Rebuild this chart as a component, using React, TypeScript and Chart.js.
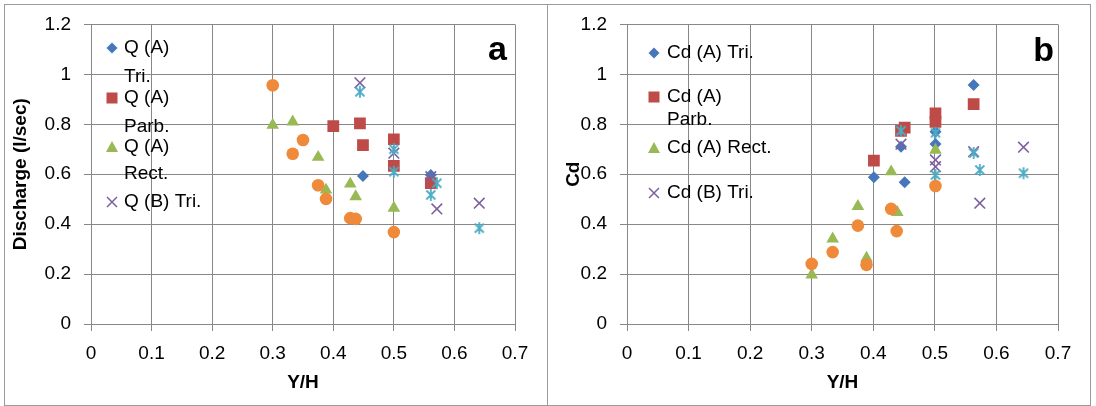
import React, { useEffect, useRef } from 'react';
import { Chart, registerables } from 'chart.js';

Chart.register(...registerables);

const FONT = "'Liberation Sans', Arial, sans-serif";

// Tick labels (shared by both panels)
const xTickLabels = ['0', '0.1', '0.2', '0.3', '0.4', '0.5', '0.6', '0.7'];
const yTickLabels = ['0', '0.2', '0.4', '0.6', '0.8', '1', '1.2'];

// ---------- Panel a : Discharge ----------
const aTriX = [0.449, 0.561];
const aTriY = [0.593, 0.597];
const aParbX = [0.4, 0.444, 0.449, 0.5, 0.5, 0.561];
const aParbY = [0.793, 0.804, 0.716, 0.74, 0.633, 0.564];
const aRectX = [0.3, 0.333, 0.375, 0.388, 0.428, 0.437, 0.5];
const aRectY = [0.797, 0.81, 0.668, 0.537, 0.561, 0.51, 0.464];
const aBTriX = [0.444, 0.5, 0.561, 0.571, 0.641];
const aBTriY = [0.966, 0.684, 0.59, 0.461, 0.484];
const aStarX = [0.444, 0.5, 0.5, 0.561, 0.571, 0.641];
const aStarY = [0.93, 0.7, 0.61, 0.517, 0.564, 0.384];
const aCircX = [0.3, 0.333, 0.35, 0.375, 0.388, 0.428, 0.437, 0.5];
const aCircY = [0.956, 0.682, 0.737, 0.556, 0.501, 0.424, 0.421, 0.368];

// ---------- Panel b : Cd ----------
const bTriX = [0.401, 0.445, 0.451, 0.501, 0.501, 0.563];
const bTriY = [0.588, 0.71, 0.568, 0.721, 0.77, 0.957];
const bParbX = [0.401, 0.445, 0.451, 0.501, 0.501, 0.563];
const bParbY = [0.654, 0.774, 0.787, 0.81, 0.844, 0.881];
const bRectX = [0.3, 0.334, 0.375, 0.389, 0.429, 0.439, 0.501];
const bRectY = [0.197, 0.341, 0.471, 0.264, 0.61, 0.447, 0.697];
const bBTriX = [0.445, 0.501, 0.501, 0.563, 0.573, 0.644];
const bBTriY = [0.72, 0.657, 0.63, 0.69, 0.484, 0.708];
const bStarX = [0.445, 0.501, 0.501, 0.563, 0.573, 0.644];
const bStarY = [0.774, 0.766, 0.597, 0.685, 0.617, 0.604];
const bCircX = [0.3, 0.334, 0.375, 0.389, 0.429, 0.438, 0.501];
const bCircY = [0.241, 0.288, 0.394, 0.237, 0.461, 0.372, 0.553];

const aLegend = [['Q (A)', 'Tri.'], ['Q (A)', 'Parb.'], ['Q (A)', 'Rect.'], ['Q (B) Tri.']];
const bLegend = [['Cd (A) Tri.'], ['Cd (A)', 'Parb.'], ['Cd (A) Rect.'], ['Cd (B) Tri.']];

const C_BLUE = '#4677BA';
const C_RED = '#BE4B48';
const C_GREEN = '#98B954';
const C_PURPLE = '#7D60A0';
const C_CYAN = '#4BACC6';
const C_ORANGE = '#EE8A3A';
const GRID = '#878787';

const zip = (xs: number[], ys: number[]) => xs.map((x, i) => ({ x, y: ys[i] }));

function makeStar(): HTMLCanvasElement {
  const c = document.createElement('canvas');
  c.width = 14;
  c.height = 14;
  const g = c.getContext('2d')!;
  g.strokeStyle = C_CYAN;
  g.lineWidth = 1.8;
  g.beginPath();
  g.moveTo(2.5, 2.5); g.lineTo(11.5, 11.5);
  g.moveTo(11.5, 2.5); g.lineTo(2.5, 11.5);
  g.moveTo(7, 1); g.lineTo(7, 13);
  g.stroke();
  return c;
}

function drawMarker(ctx: CanvasRenderingContext2D, style: string, x: number, y: number, color: string) {
  ctx.save();
  ctx.fillStyle = color;
  ctx.strokeStyle = color;
  ctx.beginPath();
  if (style === 'diamond') {
    const r = 5.5;
    ctx.moveTo(x, y - r); ctx.lineTo(x + r, y); ctx.lineTo(x, y + r); ctx.lineTo(x - r, y);
    ctx.closePath(); ctx.fill();
  } else if (style === 'square') {
    ctx.fillRect(x - 5.5, y - 5.5, 11, 11);
  } else if (style === 'triangle') {
    ctx.moveTo(x, y - 6); ctx.lineTo(x + 6, y + 5); ctx.lineTo(x - 6, y + 5);
    ctx.closePath(); ctx.fill();
  } else {
    const r = 5;
    ctx.lineWidth = 1.5;
    ctx.moveTo(x - r, y - r); ctx.lineTo(x + r, y + r);
    ctx.moveTo(x + r, y - r); ctx.lineTo(x - r, y + r);
    ctx.stroke();
  }
  ctx.restore();
}

const markerStyles = ['diamond', 'square', 'triangle', 'cross'];
const markerColors = [C_BLUE, C_RED, C_GREEN, C_PURPLE];

interface PanelCfg {
  legend: string[][];
  legendYs: number[][];
  markerX: number;
  textX: number;
  letter: string;
  letterX: number;
  letterY: number;
}

function overlayPlugin(cfg: PanelCfg) {
  return {
    id: 'overlay' + cfg.letter,
    afterDraw(chart: any) {
      const ctx: CanvasRenderingContext2D = chart.ctx;
      ctx.save();
      cfg.legend.forEach((lines, i) => {
        const ys = cfg.legendYs[i];
        drawMarker(ctx, markerStyles[i], cfg.markerX, ys[0], markerColors[i]);
        ctx.font = `19px ${FONT}`;
        ctx.fillStyle = '#000';
        ctx.textAlign = 'left';
        ctx.textBaseline = 'middle';
        lines.forEach((t, j) => ctx.fillText(t, cfg.textX, ys[j]));
      });
      ctx.font = `bold 34px ${FONT}`;
      ctx.fillStyle = '#000';
      ctx.textAlign = 'right';
      ctx.textBaseline = 'alphabetic';
      ctx.fillText(cfg.letter, cfg.letterX, cfg.letterY);
      ctx.restore();
    },
  };
}

function buildConfig(
  series: { tri: any[]; parb: any[]; rect: any[]; btri: any[]; star: any[]; circ: any[] },
  yTitle: string,
  yWidth: number,
  rightPad: number,
  yTitlePad: number,
  starImg: HTMLCanvasElement,
  cfg: PanelCfg
): any {
  const tickFont = { family: FONT, size: 19 };
  const titleFont = { family: FONT, size: 19, weight: 'bold' as const };
  return {
    type: 'scatter',
    data: {
      datasets: [
        { label: 'tri', data: series.tri, pointStyle: 'rectRot', pointRadius: 6, backgroundColor: C_BLUE, borderColor: C_BLUE, borderWidth: 0, order: 6 },
        { label: 'parb', data: series.parb, pointStyle: 'rect', pointRadius: 8.3, backgroundColor: C_RED, borderColor: C_RED, borderWidth: 0, order: 5 },
        { label: 'rect', data: series.rect, pointStyle: 'triangle', pointRadius: 7.3, backgroundColor: C_GREEN, borderColor: C_GREEN, borderWidth: 0, order: 4 },
        { label: 'btri', data: series.btri, pointStyle: 'crossRot', pointRadius: 7.5, backgroundColor: C_PURPLE, borderColor: C_PURPLE, borderWidth: 1.6, order: 3 },
        { label: 'star', data: series.star, pointStyle: starImg, pointRadius: 7, backgroundColor: C_CYAN, borderColor: C_CYAN, borderWidth: 0, order: 2 },
        { label: 'circ', data: series.circ, pointStyle: 'circle', pointRadius: 6.3, backgroundColor: C_ORANGE, borderColor: C_ORANGE, borderWidth: 0, order: 1 },
      ],
    },
    options: {
      animation: false,
      responsive: false,
      events: [],
      layout: { padding: { top: 24, right: rightPad, left: 0, bottom: 0 } },
      plugins: { legend: { display: false }, tooltip: { enabled: false } },
      scales: {
        x: {
          type: 'linear',
          min: 0,
          max: 0.7,
          afterFit: (s: any) => { s.height = 82; },
          ticks: {
            stepSize: 0.1,
            padding: 11,
            color: '#000',
            font: tickFont,
            callback: (v: number) => xTickLabels[Math.round(v / 0.1)] ?? '',
          },
          grid: { color: GRID, lineWidth: 1, tickLength: 7, drawTicks: true },
          border: { color: GRID, width: 1 },
          title: { display: true, text: 'Y/H', color: '#000', font: titleFont, padding: { top: 0, bottom: 12 } },
        },
        y: {
          type: 'linear',
          min: 0,
          max: 1.2,
          afterFit: (s: any) => { s.width = yWidth; },
          ticks: {
            stepSize: 0.2,
            padding: 13,
            color: '#000',
            font: tickFont,
            callback: (v: number) => yTickLabels[Math.round(v / 0.2)] ?? '',
          },
          grid: { color: GRID, lineWidth: 1, tickLength: 7, drawTicks: true },
          border: { color: GRID, width: 1 },
          title: { display: true, text: yTitle, color: '#000', font: titleFont, padding: { top: yTitlePad, bottom: 0 } },
        },
      },
    },
    plugins: [overlayPlugin(cfg)],
  };
}

export default function App() {
  const refA = useRef<HTMLCanvasElement>(null);
  const refB = useRef<HTMLCanvasElement>(null);

  useEffect(() => {
    const star = makeStar();
    const chartA = new Chart(
      refA.current!,
      buildConfig(
        {
          tri: zip(aTriX, aTriY),
          parb: zip(aParbX, aParbY),
          rect: zip(aRectX, aRectY),
          btri: zip(aBTriX, aBTriY),
          star: zip(aStarX, aStarY),
          circ: zip(aCircX, aCircY),
        },
        'Discharge (l/sec)',
        91,
        32,
        9,
        star,
        {
          legend: aLegend,
          legendYs: [[48, 77], [98, 127], [147, 174], [202]],
          markerX: 112,
          textX: 124,
          letter: 'a',
          letterX: 507,
          letterY: 60,
        }
      )
    );
    const chartB = new Chart(
      refB.current!,
      buildConfig(
        {
          tri: zip(bTriX, bTriY),
          parb: zip(bParbX, bParbY),
          rect: zip(bRectX, bRectY),
          btri: zip(bBTriX, bBTriY),
          star: zip(bStarX, bStarY),
          circ: zip(bCircX, bCircY),
        },
        'Cd',
        80,
        38,
        15,
        star,
        {
          legend: bLegend,
          legendYs: [[53], [97, 120], [148], [193]],
          markerX: 107,
          textX: 120,
          letter: 'b',
          letterX: 507,
          letterY: 61,
        }
      )
    );
    return () => {
      chartA.destroy();
      chartB.destroy();
    };
  }, []);

  return (
    <div style={{ position: 'absolute', left: 0, top: 0, width: 1096, height: 406, background: '#fff', overflow: 'hidden' }}>
      <canvas ref={refA} width={547} height={406} style={{ position: 'absolute', left: 0, top: 0, width: 547, height: 406 }} />
      <canvas ref={refB} width={549} height={406} style={{ position: 'absolute', left: 547, top: 0, width: 549, height: 406 }} />
      <div style={{ position: 'absolute', left: 4, top: 4, width: 1087, height: 402, border: '1px solid #9a9a9a', boxSizing: 'border-box', pointerEvents: 'none' }} />
      <div style={{ position: 'absolute', left: 547, top: 4, width: 1, height: 402, background: '#9a9a9a', pointerEvents: 'none' }} />
    </div>
  );
}
